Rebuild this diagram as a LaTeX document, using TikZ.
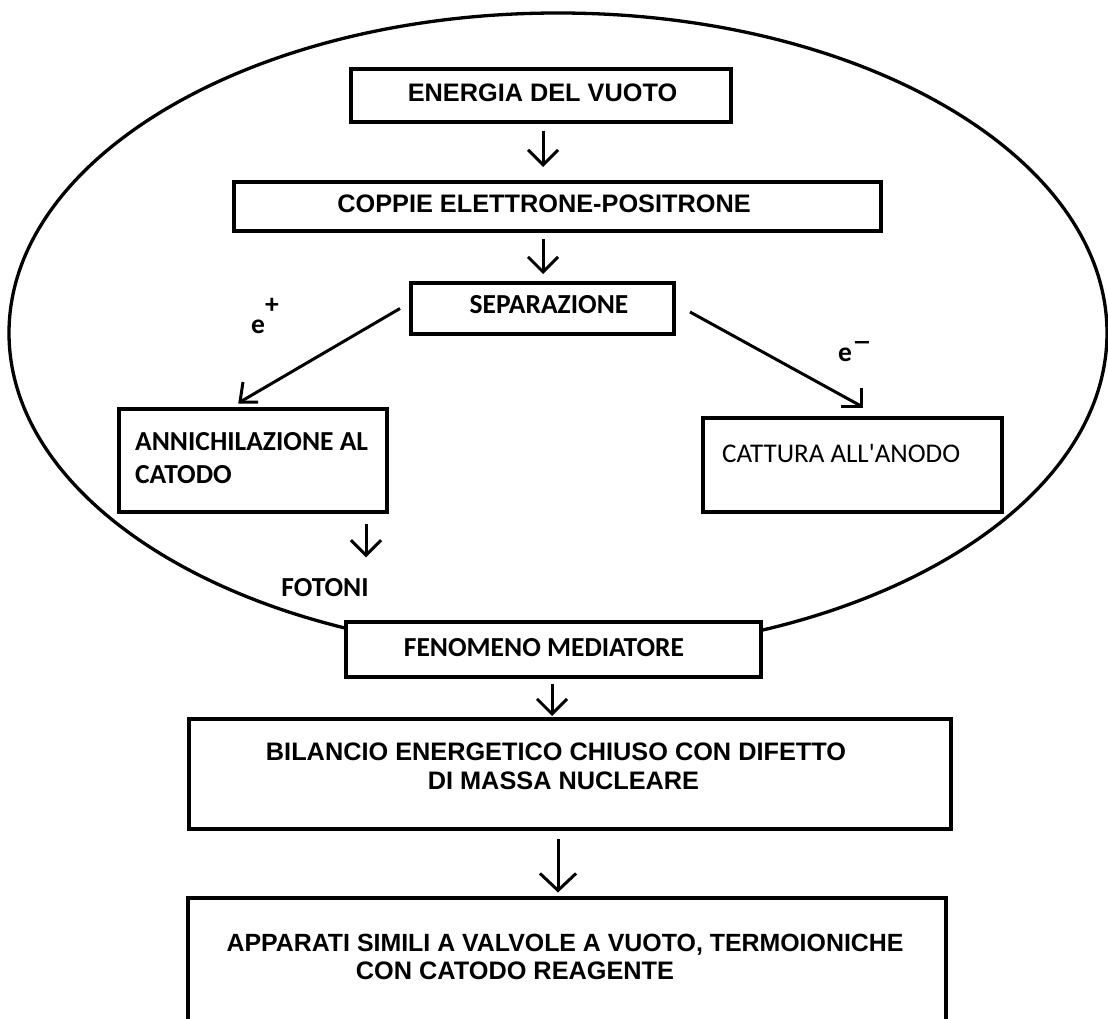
\documentclass[tikz,border=0pt]{standalone}
\usepackage{fontspec}
\newfontfamily\arialf{Liberation Sans}
\newfontfamily\calf{Carlito}
\usetikzlibrary{arrows.meta,calc}
\begin{document}
\begin{tikzpicture}[x=1pt,y=-1pt,
  box/.style={draw, line width=4pt, fill=white, inner sep=0pt},
  txta/.style={inner sep=0pt, font=\arialf\bfseries\fontsize{25.3}{29}\selectfont},
  txtc/.style={inner sep=0pt, font=\calf\bfseries\fontsize{27.5}{33}\selectfont},
  txtr/.style={inner sep=0pt, font=\calf\fontsize{27}{33}\selectfont},
  arr/.style={line width=3pt, -{Straight Barb[length=15pt,width=30pt]}},
  plain/.style={line width=3pt},
  barb/.style={line width=3pt, line join=miter}]
\fill[white] (0,0) rectangle (1108,1019);
\useasboundingbox (0,0) rectangle (1108,1019);
% enclosing ellipse
\draw[line width=3.3pt] (558,333) ellipse [x radius=549pt, y radius=320pt];
% boxes
\node[box, minimum width=380pt, minimum height=53pt] (ene) at (541,95.5) {};
\node[box, minimum width=647pt, minimum height=49pt] (cop) at (557.5,206.5) {};
\node[box, minimum width=263pt, minimum height=51pt] (sep) at (542.5,308.5) {};
\node[box, minimum width=268pt, minimum height=103pt] (ann) at (253,460.5) {};
\node[box, minimum width=299pt, minimum height=94pt] (cat) at (852.5,465) {};
\node[box, minimum width=415pt, minimum height=55pt] (fen) at (553.5,649.5) {};
\node[box, minimum width=762pt, minimum height=110pt] (bil) at (570,774) {};
\node[box, minimum width=758pt, minimum height=140pt] (app) at (567,968) {};
% texts
\node[txta, anchor=base] (t1) at (542.5,102) {ENERGIA DEL VUOTO};
\node[txta, anchor=base] (t2) at (544,213) {COPPIE ELETTRONE-POSITRONE};
\node[txtc, anchor=base] (t3) at (549,313) {SEPARAZIONE};
\node[txtc, anchor=base west] (t4a) at (135,450.5) {ANNICHILAZIONE AL};
\node[txtc, anchor=base west] (t4b) at (135,483) {CATODO};
\node[txtr, anchor=base west] (t5) at (722,462.5) {CATTURA ALL'ANODO};
\node[txtc, anchor=base] (fot) at (325,596.5) {FOTONI};
\node[txtc, anchor=base] (t7) at (544,656) {FENOMENO MEDIATORE};
\node[txta, anchor=base] (t8a) at (556,760) {BILANCIO ENERGETICO CHIUSO CON DIFETTO};
\node[txta, anchor=base] (t8b) at (563.5,789) {DI MASSA NUCLEARE};
\node[txta, anchor=base, font=\arialf\bfseries\fontsize{24.9}{29}\selectfont] (t9a) at (565,951.5) {APPARATI SIMILI A VALVOLE A VUOTO, TERMOIONICHE};
\node[txta, anchor=base] (t9b) at (515,979) {CON CATODO REAGENTE};
\node[txtc, anchor=base west] (ep) at (251,333) {e\raisebox{20pt}{+}};
\node[txtc, anchor=base west] (em) at (838,361) {e\raisebox{11pt}{\scalebox{1.45}[1]{–}}};
% vertical arrows
\coordinate (a1s) at ([xshift=2pt,yshift=-7pt]ene.south);
\coordinate (a1e) at (a1s |- cop.north);
\draw[arr, shorten >=13pt] (a1s) -- (a1e);
\coordinate (a2s) at ([xshift=-14.5pt,yshift=-6pt]cop.south);
\coordinate (a2e) at (a2s |- sep.north);
\draw[arr, shorten >=7pt] (a2s) -- (a2e);
\coordinate (a5s) at ([xshift=113pt,yshift=-10pt]ann.south);
\coordinate (a5e) at (a5s |- fot.north);
\draw[arr, shorten >=21pt] (a5s) -- (a5e);
\coordinate (a6s) at ([xshift=-1.5pt,yshift=-5pt]fen.south);
\coordinate (a6e) at (a6s |- bil.north);
\draw[arr, shorten >=1pt] (a6s) -- (a6e);
\coordinate (a7s) at ([xshift=-12pt,yshift=-8pt]bil.south);
\coordinate (a7e) at (a7s |- app.north);
\draw[line width=3pt, -{Straight Barb[length=17pt,width=36pt]}, shorten >=3.5pt] (a7s) -- (a7e);
% diagonal arrows with axis-aligned heads
\coordinate (dps) at ([xshift=-9pt]sep.west);
\coordinate (dpe) at ([xshift=-13pt,yshift=5pt]ann.north);
\draw[plain] (dps) -- (dpe);
\draw[barb] ([xshift=3pt,yshift=20pt]dpe) -- (dpe) -- ([xshift=18pt]dpe);
\coordinate (dms) at ([xshift=14pt,yshift=-3.5pt]sep.east);
\coordinate (dme) at ([xshift=8.5pt,yshift=10pt]cat.north);
\draw[plain] (dms) -- (dme);
\draw[barb] ([yshift=18pt]dme) -- (dme) -- ([xshift=-20pt]dme);
\end{tikzpicture}
\end{document}
